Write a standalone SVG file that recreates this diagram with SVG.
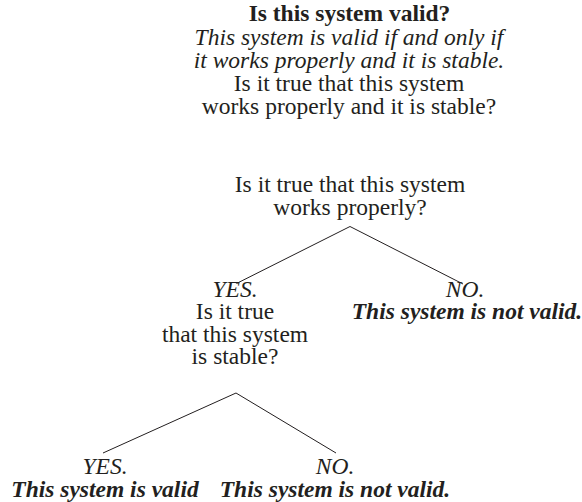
<svg xmlns="http://www.w3.org/2000/svg" width="582" height="502" viewBox="0 0 582 502">
<style>
text{font-family:'Liberation Serif','Tinos','Times New Roman','DejaVu Serif',serif;font-size:23.5px;fill:#231f20;text-anchor:middle}
.b{font-weight:bold}
.i{font-style:italic}
.bi{font-weight:bold;font-style:italic}
.edge{stroke:#231f20;stroke-width:1;fill:none}
</style>
<rect width="582" height="502" fill="#fff"/>
<g id="root" font-family="Liberation Serif, serif">
<text x="349.5" y="21" class="b">Is this system valid?</text>
<text x="349" y="45" class="i">This system is valid if and only if</text>
<text x="349" y="68" class="i">it works properly and it is stable.</text>
<text x="349" y="91">Is it true that this system</text>
<text x="349" y="114">works properly and it is stable?</text>
</g>
<g id="q1" font-family="Liberation Serif, serif">
<text x="350" y="192">Is it true that this system</text>
<text x="350" y="215">works properly?</text>
</g>
<g id="q2" font-family="Liberation Serif, serif">
<text x="235" y="297" class="i">YES.</text>
<text x="235" y="319">Is it true</text>
<text x="235" y="342">that this system</text>
<text x="235" y="364">is stable?</text>
</g>
<g id="n1" font-family="Liberation Serif, serif">
<text x="465" y="297" class="i">NO.</text>
<text x="467" y="319" class="bi">This system is not valid.</text>
</g>
<g id="y2" font-family="Liberation Serif, serif">
<text x="105" y="474" class="i">YES.</text>
<text x="105" y="497" class="bi">This system is valid</text>
</g>
<g id="n2" font-family="Liberation Serif, serif">
<text x="335" y="474" class="i">NO.</text>
<text x="335" y="497" class="bi">This system is not valid.</text>
</g>
<g id="connectors">
<path class="edge" d="M236.5,283.5 L350,226.5 L463,284"/>
<path class="edge" d="M103,453 L236,393 L336,453"/>
</g>
</svg>
